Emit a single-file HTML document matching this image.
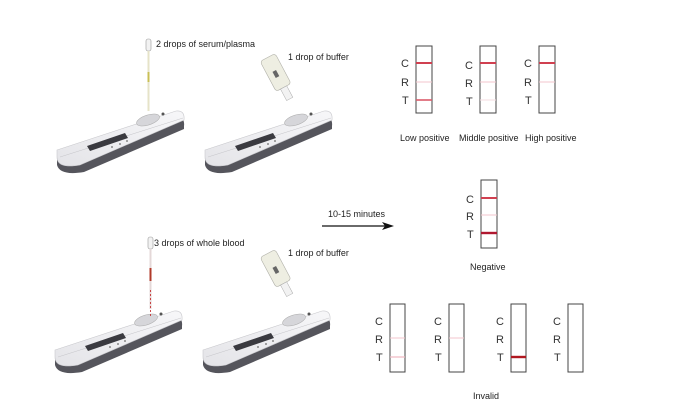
<!DOCTYPE html>
<html><head><style>
html,body{margin:0;padding:0;background:#fff;}
svg{display:block;font-family:"Liberation Sans",Arial,sans-serif;}
</style></head><body>
<svg width="683" height="415" viewBox="0 0 683 415" xmlns="http://www.w3.org/2000/svg">
<defs>
<linearGradient id="tg" x1="0" y1="1" x2="1" y2="0">
<stop offset="0" stop-color="#e4e4e8"/><stop offset="1" stop-color="#f7f7f9"/>
</linearGradient>
<g id="dev">
  <path d="M57,158 L178,118 Q185,118 184,126 L184,129 L84,172 Q60,176 57,165 Z" fill="#55555c"/>
  <path d="M57,150 L176,111 Q185,110 184,120 L80,165 Q57,169 57,157 Z" fill="url(#tg)" stroke="#c8c8cc" stroke-width="0.6"/>
  <path d="M60,157 L183,118" stroke="#c4c4c8" stroke-width="0.5"/>
  <path d="M87,146 L125,133 L128,138 L90,151 Z" fill="#3a3a40"/>
  <ellipse cx="148" cy="120" rx="12" ry="5" transform="rotate(-18 148 120)" fill="#d6d6da" stroke="#aaa" stroke-width="0.5"/>
  <circle cx="163" cy="114" r="1.5" fill="#555"/>
  <circle cx="112" cy="147" r="1" fill="#888"/><circle cx="120" cy="144" r="1" fill="#888"/><circle cx="127" cy="141" r="1" fill="#888"/>
</g>
<g id="bottle">
  <g transform="rotate(-28 278 78)">
    <rect x="270" y="55" width="17" height="34" rx="3" fill="#eeeee2" stroke="#b0b0a8" stroke-width="0.6"/>
    <rect x="275" y="89" width="7" height="13" fill="#f2f2f2" stroke="#aaa" stroke-width="0.5"/>
    <rect x="276" y="70" width="4" height="7" fill="#666"/>
  </g>
</g>
</defs>

<use href="#dev"/>
<use href="#dev" transform="translate(148,0)"/>
<use href="#dev" transform="translate(-2,200)"/>
<use href="#dev" transform="translate(146,200)"/>

<rect x="146" y="39" width="5" height="12" rx="2" fill="#f2f2f2" stroke="#999" stroke-width="0.6"/>
<rect x="147.5" y="51" width="2" height="60" fill="#e6e3c8"/>
<rect x="147.5" y="72" width="2" height="10" fill="#c9bf55"/>
<rect x="148" y="237" width="5" height="12" rx="2" fill="#f2f2f2" stroke="#999" stroke-width="0.6"/>
<rect x="149.5" y="249" width="2" height="60" fill="#e4d8d8"/>
<rect x="149.5" y="268" width="2" height="13" fill="#b03a2a"/>
<line x1="150.5" y1="290" x2="150.5" y2="318" stroke="#c02020" stroke-width="0.8" stroke-dasharray="2,2"/>

<use href="#bottle"/>
<use href="#bottle" transform="translate(0,196)"/>

<g font-size="9" fill="#222">
<text x="156" y="47">2 drops of serum/plasma</text>
<text x="288" y="60">1 drop of buffer</text>
<text x="154" y="246">3 drops of whole blood</text>
<text x="288" y="256">1 drop of buffer</text>
<text x="328" y="217">10-15 minutes</text>
<text x="400" y="141">Low positive</text>
<text x="459" y="141">Middle positive</text>
<text x="525" y="141">High positive</text>
<text x="470" y="270">Negative</text>
<text x="473" y="399">Invalid</text>
</g>
<line x1="322" y1="226" x2="388" y2="226" stroke="#111" stroke-width="1.2"/>
<path d="M394,226 L382,222 L385,226 L382,230 Z" fill="#111"/>

<g fill="none" stroke="#444" stroke-width="1">
<rect x="416" y="46" width="16" height="67"/>
<rect x="480" y="46" width="16" height="67"/>
<rect x="539" y="46" width="16" height="67"/>
<rect x="481" y="180" width="16" height="68"/>
<rect x="390" y="304" width="15" height="68"/>
<rect x="449" y="304" width="15" height="68"/>
<rect x="511" y="304" width="15" height="68"/>
<rect x="568" y="304" width="15" height="68"/>
</g>
<g stroke-width="2">
<line x1="416" y1="63" x2="432" y2="63" stroke="#d04050"/>
<line x1="416" y1="82" x2="432" y2="82" stroke="#f3c6cc" stroke-width="1"/>
<line x1="416" y1="100" x2="432" y2="100" stroke="#db5c6a" stroke-width="1.6"/>
<line x1="480" y1="63" x2="496" y2="63" stroke="#d04050"/>
<line x1="480" y1="82" x2="496" y2="82" stroke="#f3c6cc" stroke-width="1"/>
<line x1="480" y1="100" x2="496" y2="100" stroke="#f6dde0" stroke-width="1"/>
<line x1="539" y1="63" x2="555" y2="63" stroke="#d04050"/>
<line x1="539" y1="82" x2="555" y2="82" stroke="#f3c6cc" stroke-width="1"/>
<line x1="481" y1="198" x2="497" y2="198" stroke="#d04050"/>
<line x1="481" y1="215" x2="497" y2="215" stroke="#f3c6cc" stroke-width="1"/>
<line x1="481" y1="233" x2="497" y2="233" stroke="#b01830" stroke-width="2.4"/>
<line x1="390" y1="338" x2="405" y2="338" stroke="#f3c6cc" stroke-width="1"/>
<line x1="390" y1="357" x2="405" y2="357" stroke="#f0b8c0" stroke-width="1.2"/>
<line x1="449" y1="338" x2="464" y2="338" stroke="#f3c6cc" stroke-width="1"/>
<line x1="511" y1="357" x2="526" y2="357" stroke="#b01820" stroke-width="2.4"/>
</g>
<g font-size="11" fill="#333">
<text x="401" y="67">C</text><text x="401" y="86">R</text><text x="402" y="104">T</text>
<text x="465" y="69">C</text><text x="465" y="87">R</text><text x="466" y="105">T</text>
<text x="524" y="67">C</text><text x="524" y="86">R</text><text x="525" y="104">T</text>
<text x="466" y="203">C</text><text x="466" y="220">R</text><text x="467" y="238">T</text>
<text x="375" y="325">C</text><text x="375" y="343">R</text><text x="376" y="361">T</text>
<text x="434" y="325">C</text><text x="434" y="343">R</text><text x="435" y="361">T</text>
<text x="496" y="325">C</text><text x="496" y="343">R</text><text x="497" y="361">T</text>
<text x="553" y="325">C</text><text x="553" y="343">R</text><text x="554" y="361">T</text>
</g>
</svg>
</body></html>
